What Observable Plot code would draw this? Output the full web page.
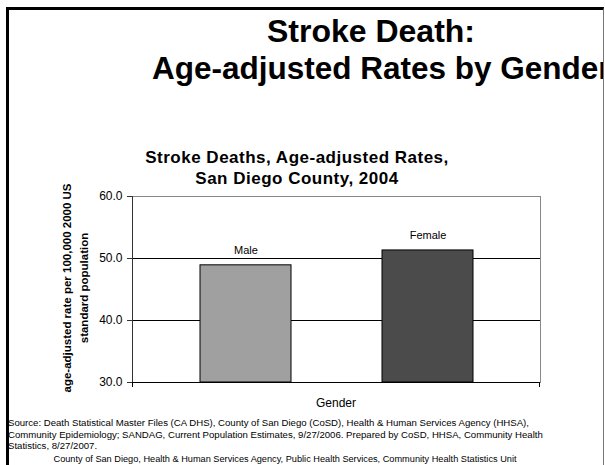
<!DOCTYPE html>
<html>
<head>
<meta charset="utf-8">
<script src="https://cdn.jsdelivr.net/npm/d3@7"></script>
<script src="https://cdn.jsdelivr.net/npm/@observablehq/plot@0.6"></script>
<style>
  html, body { margin: 0; padding: 0; background: #fff; overflow: hidden; }
  #page { position: relative; width: 605px; height: 465px; overflow: hidden; font-family: "Liberation Sans", Arial, sans-serif; color: #000; }
  #frame { position: absolute; left: 6px; top: 7px; width: 598px; height: 470px; border-left: 3px solid #000; border-top: 3px solid #000; border-right: 1px solid #777; box-sizing: border-box; }
  #clip { position: absolute; left: 0; top: 0; width: 603px; height: 465px; overflow: hidden; }
  #chart { position: absolute; left: 0; top: 0; }
  .t { position: absolute; white-space: nowrap; }
  .title { font-weight: bold; font-size: 32px; line-height: 32px; }
  .sub { font-weight: bold; font-size: 17px; line-height: 17px; letter-spacing: 0.5px; }
  #ytitle { position: absolute; left: 76px; top: 288px; transform: translate(-50%, -50%) rotate(-90deg); font-weight: bold; font-size: 11.5px; line-height: 17px; text-align: center; white-space: nowrap; }
  .src { font-size: 9.6px; line-height: 11.5px; }
</style>
</head>
<body>
<div id="page">
  <div id="chart"></div>
  <div id="frame"></div>
  <div class="t title" style="left:371px; top:15px; transform:translateX(-50%);">Stroke Death:</div>
  <div id="clip"><div class="t title" style="left:152px; top:52px; font-size:31.5px;">Age-adjusted Rates by Gender</div></div>
  <div class="t sub" style="left:297px; top:149px; transform:translateX(-50%);">Stroke Deaths, Age-adjusted Rates,</div>
  <div class="t sub" style="left:297px; top:170px; transform:translateX(-50%);">San Diego County, 2004</div>
  <div id="ytitle">age-adjusted rate per 100,000 2000 US<br>standard population</div>
  <div class="t" style="left:336px; top:396px; transform:translateX(-50%); font-size:12px;">Gender</div>
  <div class="t src" style="left:8px; top:417px;">Source: Death Statistical Master Files (CA DHS), County of San Diego (CoSD), Health &amp; Human Services Agency (HHSA),<br>Community Epidemiology; SANDAG, Current Population Estimates, 9/27/2006. Prepared by CoSD, HHSA, Community Health<br>Statistics, 8/27/2007.</div>
  <div class="t src" style="left:285px; top:454px; transform:translateX(-50%); font-size:9.2px;">County of San Diego, Health &amp; Human Services Agency, Public Health Services, Community Health Statistics Unit</div>
</div>
<script>
const genders = ["Male", "Female"];
const rates = [48.9, 51.3];
const barColors = ["#a0a0a0", "#4b4b4b"];
const yTicks = [30, 40, 50, 60];
const gridValues = [40, 50];

const data = genders.map((g, i) => ({gender: g, rate: rates[i], color: barColors[i]}));
const yMin = yTicks[0];

const axisLines = (index, scales, values, dim) => {
  const g = d3.create("svg:g");
  const x0 = dim.marginLeft, x1 = dim.width - dim.marginRight;
  const y0 = dim.marginTop, y1 = dim.height - dim.marginBottom;
  g.append("line").attr("x1", x0 + 0.5).attr("x2", x0 + 0.5).attr("y1", y0).attr("y2", y1).attr("stroke", "#333");
  g.append("line").attr("x1", x0).attr("x2", x1).attr("y1", y1 + 0.5).attr("y2", y1 + 0.5).attr("stroke", "#000");
  g.append("line").attr("x1", x0 + 0.5).attr("x2", x0 + 0.5).attr("y1", y1).attr("y2", y1 + 5).attr("stroke", "#000");
  g.append("line").attr("x1", x1 - 0.5).attr("x2", x1 - 0.5).attr("y1", y1).attr("y2", y1 + 5).attr("stroke", "#000");
  return g.node();
};

const chart = Plot.plot({
  width: 605,
  height: 465,
  marginLeft: 132,
  marginRight: 65,
  marginTop: 196,
  marginBottom: 83,
  style: {fontFamily: "Liberation Sans, Arial, sans-serif", fontSize: "12px", background: "transparent", color: "#000"},
  x: {domain: genders, paddingInner: 0.5, paddingOuter: 0.37, axis: null},
  y: {domain: [yTicks[0], yTicks[yTicks.length - 1]]},
  color: {type: "identity"},
  marks: [
    Plot.frame({stroke: "#888"}),
    Plot.ruleY(gridValues, {stroke: "#000", strokeWidth: 1}),
    Plot.barY(data, {x: "gender", y1: yMin, y2: "rate", fill: "color", stroke: "#000", strokeWidth: 1}),
    Plot.text(data, {x: "gender", y: "rate", text: "gender", dy: -15, fill: "#000", fontSize: 11}),
    Plot.axisY({ticks: yTicks, tickFormat: d => d.toFixed(1), tickSize: 5, tickPadding: 5, label: null, stroke: "#333", fontSize: 12}),
    axisLines
  ]
});
document.getElementById("chart").appendChild(chart);
</script>
</body>
</html>
